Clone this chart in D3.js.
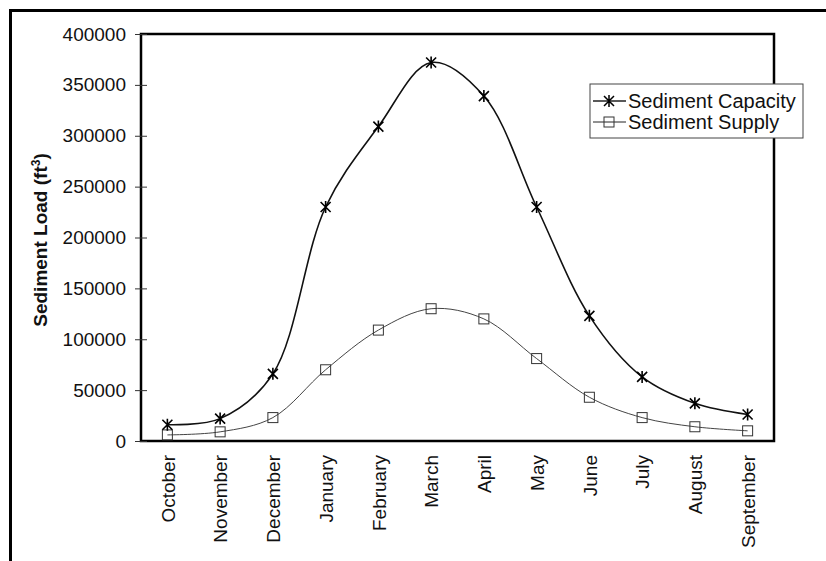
<!DOCTYPE html>
<html>
<head>
<meta charset="utf-8">
<script src="https://cdn.jsdelivr.net/npm/d3@7"></script>
<style>
  body { margin: 0; background: #fff; }
  svg { display: block; }
  text { font-family: "Liberation Sans", Arial, sans-serif; fill: #111; }
</style>
</head>
<body>
<svg id="chart" width="826" height="561"></svg>
<script>
// data
var months = ['October', 'November', 'December', 'January', 'February', 'March',
  'April', 'May', 'June', 'July', 'August', 'September'];
var capacity = [16000, 22000, 66000, 230000, 309000, 372000, 339000, 230000, 123000, 63000, 37000, 26000];
var supply = [6000, 9000, 23000, 70000, 109000, 130000, 120000, 81000, 43000, 23000, 14000, 10000];
var yTicks = [0, 50000, 100000, 150000, 200000, 250000, 300000, 350000, 400000];

var svg = d3.select('#chart');
var box = { left: 141, right: 774, top: 34, bottom: 441 };

var x = d3.scalePoint().domain(months).range([box.left, box.right]).padding(0.5);
var y = d3.scaleLinear().domain([0, 400000]).range([box.bottom, box.top]);

// outer frame (only left and top visible)
svg.append('path')
  .attr('d', 'M10.5,561V10.5H826')
  .attr('fill', 'none').attr('stroke', '#000').attr('stroke-width', 3);

// plot border
svg.append('rect')
  .attr('x', box.left).attr('y', box.top)
  .attr('width', box.right - box.left).attr('height', box.bottom - box.top)
  .attr('fill', 'none').attr('stroke', '#000').attr('stroke-width', 2.5);

// y axis, ticks cross the axis line
var yAxis = svg.append('g')
  .attr('transform', 'translate(' + box.left + ',0)')
  .call(d3.axisLeft(y).tickValues(yTicks).tickFormat(d3.format('d')).tickSize(6).tickPadding(9));
yAxis.select('.domain').remove();
yAxis.selectAll('.tick line').attr('x1', 6).attr('stroke', '#333');
yAxis.selectAll('.tick text').style('font-size', '19px').attr('fill', '#111');

// x labels
var xAxis = svg.append('g')
  .attr('transform', 'translate(0,' + box.bottom + ')')
  .call(d3.axisBottom(x).tickSize(0).tickPadding(0));
xAxis.select('.domain').remove();
xAxis.selectAll('.tick text')
  .style('font-size', '19px')
  .attr('text-anchor', 'end')
  .attr('transform', 'translate(0,14) rotate(-90)')
  .attr('x', 0).attr('y', 0).attr('dy', '0.35em');

// y title
var title = svg.append('text')
  .attr('transform', 'translate(47,240) rotate(-90)')
  .attr('text-anchor', 'middle')
  .style('font-size', '19px').style('font-weight', 'bold');
title.append('tspan').text('Sediment Load (ft');
title.append('tspan').attr('dy', -7).style('font-size', '12px').text('3');
title.append('tspan').attr('dy', 7).text(')');

// lines
var line = d3.line()
  .x(function(d, i){ return x(months[i]); })
  .y(function(d){ return y(d); })
  .curve(d3.curveCatmullRom.alpha(0.5));

svg.append('path').datum(supply)
  .attr('d', line).attr('fill', 'none')
  .attr('stroke', '#444').attr('stroke-width', 1);
svg.append('path').datum(capacity)
  .attr('d', line).attr('fill', 'none')
  .attr('stroke', '#111').attr('stroke-width', 1.6);

function star(cx, cy){
  return 'M' + (cx - 5) + ',' + (cy - 5) + 'L' + (cx + 5) + ',' + (cy + 5) +
    'M' + (cx - 5) + ',' + (cy + 5) + 'L' + (cx + 5) + ',' + (cy - 5) +
    'M' + cx + ',' + (cy - 6) + 'L' + cx + ',' + (cy + 6);
}

svg.append('g').selectAll('rect').data(supply).enter().append('rect')
  .attr('x', function(d, i){ return x(months[i]) - 5; })
  .attr('y', function(d){ return y(d) - 5; })
  .attr('width', 10).attr('height', 10)
  .attr('fill', 'none').attr('stroke', '#333').attr('stroke-width', 1);

svg.append('g').selectAll('path').data(capacity).enter().append('path')
  .attr('d', function(d, i){ return star(x(months[i]), y(d)); })
  .attr('stroke', '#000').attr('stroke-width', 1.6);

// legend
var leg = svg.append('g');
leg.append('rect')
  .attr('x', 590).attr('y', 84).attr('width', 213).attr('height', 54)
  .attr('fill', '#fff').attr('stroke', '#444').attr('stroke-width', 1);
var legRows = [
  { name: 'Sediment Capacity', cy: 101, type: 'star' },
  { name: 'Sediment Supply', cy: 122, type: 'square' }
];
legRows.forEach(function(r){
  leg.append('line')
    .attr('x1', 593).attr('x2', 626).attr('y1', r.cy).attr('y2', r.cy)
    .attr('stroke', '#222').attr('stroke-width', r.type === 'star' ? 1.4 : 1);
  if (r.type === 'star') {
    leg.append('path').attr('d', star(609, r.cy)).attr('stroke', '#000').attr('stroke-width', 1.5);
  } else {
    leg.append('rect').attr('x', 604).attr('y', r.cy - 5).attr('width', 10).attr('height', 10)
      .attr('fill', 'none').attr('stroke', '#333').attr('stroke-width', 1);
  }
  leg.append('text').attr('x', 628).attr('y', r.cy + 7)
    .style('font-size', '20px').text(r.name);
});
</script>
</body>
</html>
